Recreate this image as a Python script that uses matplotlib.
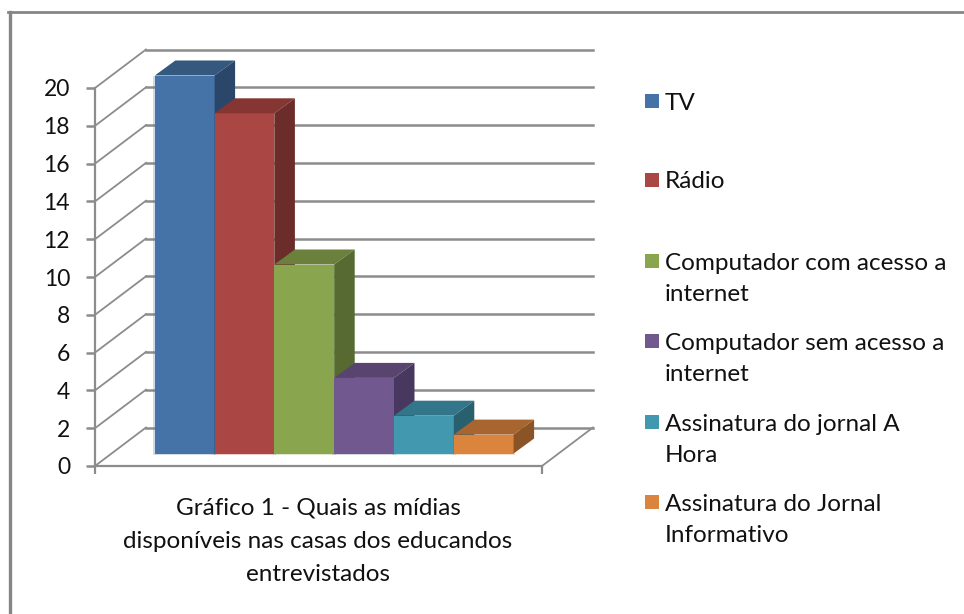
# 3D style column chart, the depth is faked with offset polygons
import matplotlib
matplotlib.use('Agg')
import matplotlib.pyplot as plt
from matplotlib.patches import Rectangle

plt.rcParams['font.family'] = ['Lato', 'DejaVu Sans']

categories = ['TV', 'Rádio', 'Computador com acesso a\ninternet',
              'Computador sem acesso a\ninternet', 'Assinatura do jornal A\nHora',
              'Assinatura do Jornal\nInformativo']
values = [20, 18, 10, 4, 2, 1]
y_ticks = [0, 2, 4, 6, 8, 10, 12, 14, 16, 18, 20]
xlabel_text = 'Gráfico 1 - Quais as mídias\ndisponíveis nas casas dos educandos\nentrevistados'

front_colors = ['#4572A7', '#AA4643', '#89A54E', '#71588F', '#4198AF', '#DB843D']
top_colors = ['#35587F', '#853532', '#6B803C', '#58446F', '#33768A', '#A9652F']
side_colors = ['#2A4669', '#6B2C2A', '#566A32', '#483860', '#296070', '#8A5426']
legend_y = [101, 180, 261, 341, 422, 502]  # pixels from the top
text_y = [103, 182, 279, 359, 440, 520]

W, H = 964, 614
X0, XU = 95, 59.8   # pixel of x=0, pixels per bar
Y0, YU = 466, 18.9  # pixel of y=0, pixels per unit
GRID = '#8c8c8c'
TEXT = '#111111'

fig = plt.figure(figsize=(W / 100, H / 100), dpi=100, facecolor='white')
ax = fig.add_axes([0, 0, 1, 1])
ax.set_xlim(-X0 / XU, (W - X0) / XU)
ax.set_ylim((Y0 - H) / YU, Y0 / YU)
ax.patch.set_visible(False)

# wall depth and bar depth, in data units
wall_dx, wall_dy = 51 / XU, 38.5 / YU
bar_dx, bar_dy = 20.5 / XU, 15 / YU
bar_x0, bar_base = 1.0, 12.5 / YU
floor_w = (542 - X0) / XU

# walls
for v in y_ticks:
    ax.plot([0, wall_dx], [v, v + wall_dy], color=GRID, lw=1.3, zorder=1)
    ax.plot([wall_dx, wall_dx + floor_w], [v + wall_dy] * 2, color=GRID, lw=1.8, zorder=1)
ax.plot([floor_w, floor_w + wall_dx], [0, wall_dy], color=GRID, lw=1.3, zorder=1)

# bars, left to right so each one covers the side of the one before
for i, v in enumerate(values):
    left = bar_x0 + i
    right = left + 1
    top = bar_base + v
    z = 3 + i * 0.1
    ax.add_patch(Rectangle((left - 0.03, bar_base - 0.09), 1.06, v + 0.09,
                           color=front_colors[i], alpha=0.25, lw=0, zorder=2))
    ax.bar(left, v, width=1, bottom=bar_base, align='edge', color=front_colors[i], lw=0, zorder=z)
    ax.fill([left, right, right + bar_dx, left + bar_dx],
            [top, top, top + bar_dy, top + bar_dy], color=top_colors[i], lw=0, zorder=z)
    ax.fill([right, right + bar_dx, right + bar_dx, right],
            [bar_base, bar_base + bar_dy, top + bar_dy, top], color=side_colors[i], lw=0, zorder=z)

# axes
for s in ['top', 'right']:
    ax.spines[s].set_visible(False)
ax.spines['left'].set_position(('data', 0))
ax.spines['left'].set_bounds(0, 20)
ax.spines['bottom'].set_position(('data', 0))
ax.spines['bottom'].set_bounds(0, floor_w)
for s in ['left', 'bottom']:
    ax.spines[s].set_color(GRID)
    ax.spines[s].set_linewidth(1.6)
    ax.spines[s].set_zorder(6)
ax.set_yticks(y_ticks)
ax.set_xticks([0, floor_w])
ax.set_xticklabels([])
ax.tick_params(axis='y', length=6.5, width=1.8, color=GRID, pad=11.5, labelsize=16.5, labelcolor=TEXT)
ax.tick_params(axis='x', length=5.5, width=1.6, color=GRID)

# outer frame, only left and top show in the crop
fig.add_artist(plt.Line2D([9.5 / W, 9.5 / W], [0, 1 - 12 / H], color='#868686', lw=2.4))
fig.add_artist(plt.Line2D([8 / W, 1], [1 - 12 / H, 1 - 12 / H], color='#868686', lw=2.0))

# legend
for name, col, ly, ty in zip(categories, front_colors, legend_y, text_y):
    fig.patches.append(Rectangle((645 / W, 1 - (ly + 7) / H), 14 / W, 14 / H,
                                 transform=fig.transFigure, color=col, lw=0, figure=fig))
    fig.text(665 / W, 1 - ty / H, name, fontsize=17.5, color=TEXT, va='center', ha='left',
             linespacing=1.62)

fig.text(318 / W, 1 - 541 / H, xlabel_text, fontsize=17.5, color=TEXT, va='center', ha='center',
         linespacing=1.72)

fig.savefig('out.png', dpi=100)
